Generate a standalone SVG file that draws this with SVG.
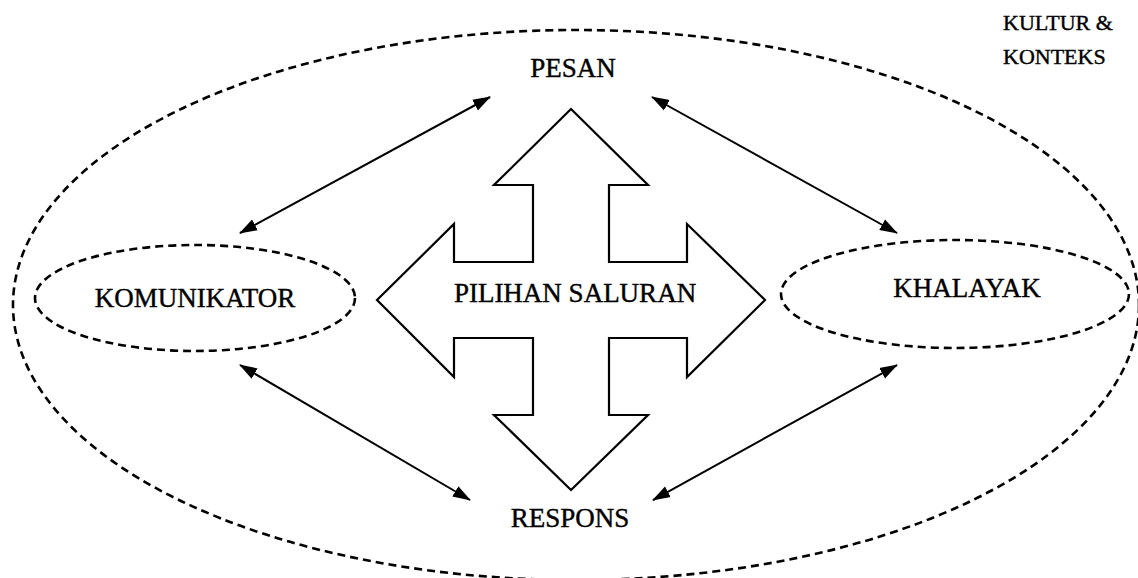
<svg xmlns="http://www.w3.org/2000/svg" width="1138" height="578" viewBox="0 0 1138 578">
<style>
.lbl{font-family:"Liberation Serif","Times New Roman",serif;font-size:27px;fill:#000;stroke:#000;stroke-width:0.4;text-anchor:middle}
.ctx{font-family:"Liberation Serif","Times New Roman",serif;font-size:22px;fill:#000;stroke:#000;stroke-width:0.4}
.dash{fill:none;stroke:#000;stroke-width:2.6;stroke-dasharray:8 5}
.conn{fill:none;stroke:#000;stroke-width:2;marker-start:url(#ah);marker-end:url(#ah)}
.cross{fill:#fff;stroke:#000;stroke-width:2.2;stroke-linejoin:miter}
</style>
<defs>
<marker id="ah" markerUnits="userSpaceOnUse" markerWidth="18" markerHeight="14" viewBox="0 0 18 14" refX="17" refY="7" orient="auto-start-reverse">
<path d="M0,1 L18,7 L0,13 Z" fill="#000"/>
</marker>
</defs>
<rect width="1138" height="578" fill="#fff"/>
<g id="kultur-konteks">
<ellipse class="dash" cx="576" cy="305" rx="563" ry="275"/>
<text class="ctx" x="1003" y="30">KULTUR &amp;</text>
<text class="ctx" x="1003" y="64">KONTEKS</text>
</g>
<g id="pilihan-saluran">
<polygon class="cross" points="571,109 648,185 609,185 609,262 687,262 687,224 765,300 687,377 687,338 609,338 609,415 648,415 571,490 494,415 533,415 533,338 454,338 454,377 377,300 454,224 454,262 533,262 533,185 494,185"/>
<text class="lbl" x="575" y="302">PILIHAN SALURAN</text>
</g>
<g id="komunikator">
<ellipse class="dash" cx="195" cy="298" rx="160" ry="53"/>
<text class="lbl" x="195" y="307">KOMUNIKATOR</text>
</g>
<g id="khalayak">
<ellipse class="dash" cx="955" cy="294" rx="174" ry="54"/>
<text class="lbl" x="967" y="297">KHALAYAK</text>
</g>
<g id="pesan">
<text class="lbl" x="573" y="77">PESAN</text>
</g>
<g id="respons">
<text class="lbl" x="570" y="527">RESPONS</text>
</g>
<g id="connectors">
<line class="conn" x1="240" y1="233" x2="490" y2="97"/>
<line class="conn" x1="652" y1="97" x2="897" y2="233"/>
<line class="conn" x1="240" y1="365" x2="470" y2="500"/>
<line class="conn" x1="897" y1="365" x2="653" y2="500"/>
</g>
</svg>
